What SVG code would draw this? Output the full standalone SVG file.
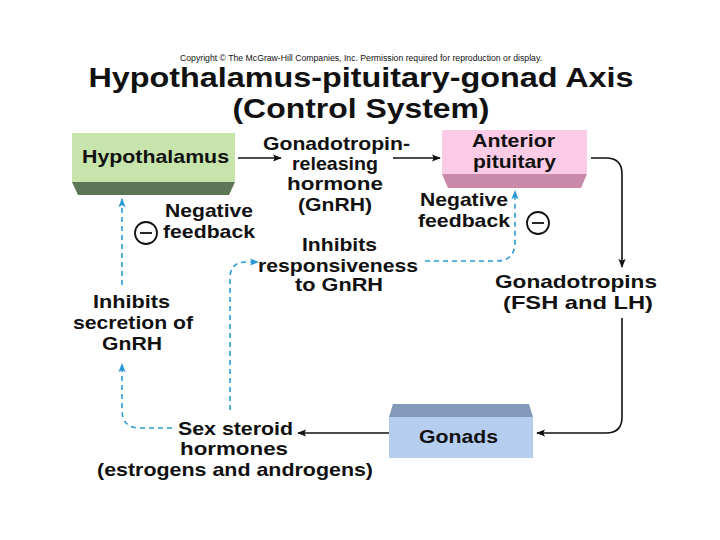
<svg xmlns="http://www.w3.org/2000/svg" width="720" height="540" viewBox="0 0 720 540">
<style>
text{font-family:"Liberation Sans",Arial,sans-serif;font-weight:bold;fill:#111;text-anchor:middle}
.lbl{font-size:18.5px}
.blk{fill:none;stroke:#111;stroke-width:1.6}
.dash{fill:none;stroke:#2a9ad6;stroke-width:1.6;stroke-dasharray:5,4}
.circ{fill:#fff;stroke:#111;stroke-width:1.8}
</style>
<defs>
<marker id="ab" viewBox="0 0 10 10" refX="9" refY="5" markerWidth="9" markerHeight="9" markerUnits="userSpaceOnUse" orient="auto"><path d="M0,1 L10,5 L0,9 L2,5 Z" fill="#111"/></marker>
<marker id="au" viewBox="0 0 10 10" refX="9" refY="5" markerWidth="9" markerHeight="9" markerUnits="userSpaceOnUse" orient="auto"><path d="M0,1 L10,5 L0,9 L2,5 Z" fill="#2a9ad6"/></marker>
</defs>
<rect width="720" height="540" fill="#fff"/>
<text x="361" y="61" style="font-size:8.5px;font-weight:normal" textLength="362" lengthAdjust="spacingAndGlyphs">Copyright © The McGraw-Hill Companies, Inc. Permission required for reproduction or display.</text>
<text x="361" y="87" style="font-size:28px" textLength="545" lengthAdjust="spacingAndGlyphs">Hypothalamus-pituitary-gonad Axis</text>
<text x="361" y="118" style="font-size:28px" textLength="257" lengthAdjust="spacingAndGlyphs">(Control System)</text>

<g id="hypothalamus">
<rect x="72" y="133" width="163" height="49" fill="#c6e4ab"/>
<polygon points="72,182 235,182 229,195 78,195" fill="#5d7756"/>
<text x="155.5" y="163" class="lbl" textLength="147" lengthAdjust="spacingAndGlyphs">Hypothalamus</text>
</g>
<g id="anterior-pituitary">
<rect x="442" y="130" width="145" height="44" fill="#fccbe5"/>
<polygon points="442,174 587,174 581,188 448,188" fill="#c98aa9"/>
<text x="513.5" y="147" class="lbl" textLength="83" lengthAdjust="spacingAndGlyphs">Anterior</text>
<text x="514.5" y="168" class="lbl" textLength="83" lengthAdjust="spacingAndGlyphs">pituitary</text>
</g>
<g id="gonads">
<polygon points="393,404 529,404 533,417 389,417" fill="#8299b9"/>
<rect x="389" y="417" width="144" height="41" fill="#b5cdef"/>
<text x="458.5" y="443" class="lbl" textLength="79" lengthAdjust="spacingAndGlyphs">Gonads</text>
</g>
<g id="gnrh">
<text x="336.5" y="150" class="lbl" textLength="147" lengthAdjust="spacingAndGlyphs">Gonadotropin-</text>
<text x="335" y="170" class="lbl" textLength="86" lengthAdjust="spacingAndGlyphs">releasing</text>
<text x="335" y="190" class="lbl" textLength="96" lengthAdjust="spacingAndGlyphs">hormone</text>
<text x="335" y="211" class="lbl" textLength="74" lengthAdjust="spacingAndGlyphs">(GnRH)</text>
</g>
<g id="gonadotropins">
<text x="576" y="288" class="lbl" textLength="162" lengthAdjust="spacingAndGlyphs">Gonadotropins</text>
<text x="578" y="309" class="lbl" textLength="150" lengthAdjust="spacingAndGlyphs">(FSH and LH)</text>
</g>
<g id="sex-steroids">
<text x="235.5" y="435" class="lbl" textLength="115" lengthAdjust="spacingAndGlyphs">Sex steroid</text>
<text x="234" y="455" class="lbl" textLength="108" lengthAdjust="spacingAndGlyphs">hormones</text>
<text x="235" y="476" class="lbl" textLength="276" lengthAdjust="spacingAndGlyphs">(estrogens and androgens)</text>
</g>
<g id="inhibits-secretion">
<text x="131.5" y="308" class="lbl" textLength="77" lengthAdjust="spacingAndGlyphs">Inhibits</text>
<text x="133" y="329" class="lbl" textLength="120" lengthAdjust="spacingAndGlyphs">secretion of</text>
<text x="132" y="350" class="lbl" textLength="60" lengthAdjust="spacingAndGlyphs">GnRH</text>
</g>
<g id="inhibits-responsiveness">
<text x="339.5" y="251" class="lbl" textLength="75" lengthAdjust="spacingAndGlyphs">Inhibits</text>
<text x="338" y="272" class="lbl" textLength="160" lengthAdjust="spacingAndGlyphs">responsiveness</text>
<text x="339" y="291" class="lbl" textLength="88" lengthAdjust="spacingAndGlyphs">to GnRH</text>
</g>
<g id="neg-feedback-left">
<text x="209" y="217" class="lbl" textLength="88" lengthAdjust="spacingAndGlyphs">Negative</text>
<text x="209" y="238" class="lbl" textLength="92" lengthAdjust="spacingAndGlyphs">feedback</text>
<circle cx="146" cy="233" r="11" class="circ"/>
<line x1="140" y1="233" x2="152" y2="233" stroke="#111" stroke-width="1.8"/>
</g>
<g id="neg-feedback-right">
<text x="464" y="206" class="lbl" textLength="88" lengthAdjust="spacingAndGlyphs">Negative</text>
<text x="464" y="227" class="lbl" textLength="92" lengthAdjust="spacingAndGlyphs">feedback</text>
<circle cx="538" cy="223" r="11" class="circ"/>
<line x1="532" y1="223" x2="544" y2="223" stroke="#111" stroke-width="1.8"/>
</g>

<g id="connectors">
<path class="blk" d="M238,158 H281" marker-end="url(#ab)"/>
<path class="blk" d="M393,158 H440" marker-end="url(#ab)"/>
<path class="blk" d="M591,158 H606 Q622,158 622,174 V267" marker-end="url(#ab)"/>
<path class="blk" d="M622,318 V417 Q622,433 606,433 H537" marker-end="url(#ab)"/>
<path class="blk" d="M389,433 H298" marker-end="url(#ab)"/>
<path class="dash" d="M172,428 H140 Q122,428 122,410 V364" marker-end="url(#au)"/>
<path class="dash" d="M122,285 V199" marker-end="url(#au)"/>
<path class="dash" d="M230,410 V278 Q230,262 246,262 H258" marker-end="url(#au)"/>
<path class="dash" d="M425,261 H496 Q515,261 515,242 V191" marker-end="url(#au)"/>
</g>
</svg>
